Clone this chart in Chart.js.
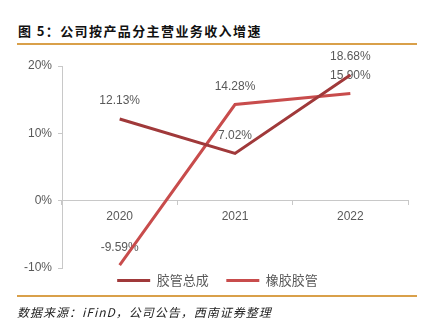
<!DOCTYPE html>
<html>
<head>
<meta charset="utf-8">
<script src="https://cdn.jsdelivr.net/npm/chart.js@4/dist/chart.umd.min.js"></script>
<style>
    body { margin: 0; background: #fff; }
    #wrap { position: relative; width: 427px; height: 329px; overflow: hidden; }
    #chartBox { position: absolute; left: 0; top: 0; width: 427px; height: 329px; }
    .title { position: absolute; left: 18px; top: 22px; font: bold 13px "Noto Sans CJK SC", sans-serif; letter-spacing: 1.4px; color: #111; line-height: 18px; white-space: nowrap; }
    .rule { position: absolute; left: 17px; width: 400px; height: 2px; background: #d9a04a; }
    .source { position: absolute; left: 17px; top: 303px; font: italic 12px "Noto Sans CJK SC", sans-serif; letter-spacing: 1px; color: #222; line-height: 18px; white-space: nowrap; }
</style>
</head>
<body>
<div id="wrap">
    <div class="title">图 5：公司按产品分主营业务收入增速</div>
    <div class="rule" style="top:43px"></div>
    <div id="chartBox"><canvas id="growth"></canvas></div>
    <div class="rule" style="top:295px"></div>
    <div class="source">数据来源：iFinD，公司公告，西南证券整理</div>
</div>
<script>
// values (%)
const years = ['2020', '2021', '2022'];
const hoseAssembly = [12.13, 7.02, 18.68];   // 胶管总成
const rubberHose = [-9.59, 14.28, 15.90];    // 橡胶胶管
const seriesNames = ['胶管总成', '橡胶胶管'];

Chart.defaults.font.family = '"Liberation Sans", "Noto Sans CJK SC", sans-serif';
Chart.defaults.font.size = 12;
Chart.defaults.color = '#595959';

// value labels above each point, drawn under the lines
const valueLabels = {
    id: 'valueLabels',
    beforeDatasetsDraw(chart) {
        let ctx = chart.ctx;
        ctx.save();
        ctx.font = '12px "Liberation Sans", sans-serif';
        ctx.fillStyle = '#595959';
        ctx.textAlign = 'center';
        ctx.textBaseline = 'middle';
        chart.data.datasets.forEach((ds, i) => {
            chart.getDatasetMeta(i).data.forEach((pt, j) => {
                ctx.fillText(ds.data[j].toFixed(2) + '%', pt.x, pt.y - 18);
            });
        });
        ctx.restore();
    }
};

new Chart(document.getElementById('growth'), {
    type: 'line',
    data: {
        labels: years,
        datasets: [{
            label: seriesNames[0],
            data: hoseAssembly,
            borderColor: '#a0393a',
            backgroundColor: '#a0393a',
            borderWidth: 3,
            pointRadius: 0,
            tension: 0
        }, {
            label: seriesNames[1],
            data: rubberHose,
            borderColor: '#c84c4c',
            backgroundColor: '#c84c4c',
            borderWidth: 3,
            pointRadius: 0,
            tension: 0
        }]
    },
    options: {
        responsive: true,
        maintainAspectRatio: false,
        animation: false,
        layout: { padding: { left: 8, right: 0, top: 66, bottom: 32 } },
        plugins: {
            tooltip: { enabled: false },
            legend: {
                position: 'bottom',
                labels: {
                    usePointStyle: true,
                    pointStyle: 'line',
                    pointStyleWidth: 33,
                    padding: 6,
                    color: '#595959',
                    font: { size: 13, family: '"Noto Sans CJK SC", sans-serif' },
                    generateLabels(chart) {
                        let items = Chart.defaults.plugins.legend.labels.generateLabels(chart);
                        items[0].text = items[0].text + '    ';
                        return items;
                    }
                }
            }
        },
        scales: {
            x: {
                position: { y: 0 },
                offset: true,
                afterFit(scale) { scale.height = 0; },
                grid: { offset: true, drawOnChartArea: false, drawTicks: true, tickLength: 4, color: '#c8c8c8' },
                border: { color: '#c8c8c8', width: 1 },
                ticks: { padding: 5, color: '#595959' }
            },
            y: {
                min: -10,
                max: 20,
                afterFit(scale) { scale.width = 54; },
                grid: { drawOnChartArea: false, drawTicks: true, tickLength: 4, color: '#c8c8c8' },
                border: { color: '#c8c8c8', width: 1 },
                ticks: { stepSize: 10, padding: 6, color: '#595959', callback: v => v + '%' }
            },
            // empty right axis, only keeps the plot off the right edge
            yRight: {
                type: 'linear',
                position: 'right',
                afterFit(scale) { scale.width = 19; },
                grid: { display: false },
                border: { display: false },
                ticks: { display: false }
            }
        }
    },
    plugins: [valueLabels]
});
</script>
</body>
</html>
